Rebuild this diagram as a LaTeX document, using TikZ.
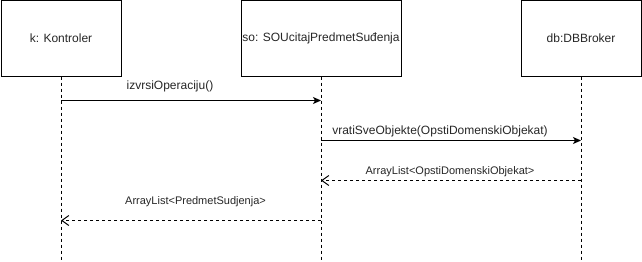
\documentclass[tikz,border=0pt]{standalone}
\usepackage{fontspec}
\setmainfont{Liberation Sans}
\usetikzlibrary{arrows.meta}
\begin{document}
\begin{tikzpicture}[x=1pt,y=-1pt,
  obj/.style={draw=black,line width=1pt,minimum width=120pt,minimum height=75pt,
    inner sep=0pt,font=\fontsize{12}{14}\selectfont,text=black!85},
  lifeline/.style={draw=black,line width=1pt,dash pattern=on 3pt off 3pt},
  call/.style={draw=black,line width=1pt,-{Stealth[length=8pt,width=7pt,inset=2pt]}},
  reply/.style={draw=black,line width=1pt,dash pattern=on 3pt off 3pt,
    -{Straight Barb[length=7pt,width=10pt,line width=1pt]}},
  calllbl/.style={font=\fontsize{12}{14}\selectfont,text=black!85,inner sep=0pt},
  replylbl/.style={font=\fontsize{11}{13}\selectfont,text=black!85,inner sep=0pt}]
  \useasboundingbox (0,0) rectangle (642,262);

  % participants
  \node[obj,anchor=north west] (k) at (0.5,0.5) {k: Kontroler};
  \node[obj,anchor=north west,minimum width=160pt] (so) at (240.5,0.5) {so: SOUcitajPredmetSuđenja};
  \node[obj,anchor=north west] (db) at (520.5,0.5) {db:DBBroker};

  % lifeline ends
  \coordinate (kend) at (k.south |- 0,262);
  \coordinate (soend) at (so.south |- 0,262);
  \coordinate (dbend) at (db.south |- 0,262);
  \draw[lifeline] (k.south) -- (kend);
  \draw[lifeline] (so.south) -- (soend);
  \draw[lifeline] (db.south) -- (dbend);

  % message anchor points on the lifelines
  \coordinate (k1)  at (k.south  |- 0,100.5);
  \coordinate (so1) at (so.south |- 0,100.5);
  \coordinate (so2) at (so.south |- 0,140.5);
  \coordinate (db2) at (db.south |- 0,140.5);
  \coordinate (db3) at (db.south |- 0,180.5);
  \coordinate (so3) at (so.south |- 0,180.5);
  \coordinate (so4) at (so.south |- 0,220.5);
  \coordinate (k4)  at (k.south  |- 0,220.5);

  % messages
  \draw[call] (k1) -- (so1);
  \node[calllbl] (m1) at (170,86) {izvrsiOperaciju()};
  \draw[call] (so2) -- (db2);
  \node[calllbl] (m2) at (440,131) {vratiSveObjekte(OpstiDomenskiObjekat)};
  \draw[reply] (db3) -- (so3);
  \node[replylbl] (m3) at (450,171.5) {ArrayList<OpstiDomenskiObjekat>};
  \draw[reply] (so4) -- (k4);
  \node[replylbl] (m4) at (195.5,201.5) {ArrayList<PredmetSudjenja>};
\end{tikzpicture}
\end{document}
